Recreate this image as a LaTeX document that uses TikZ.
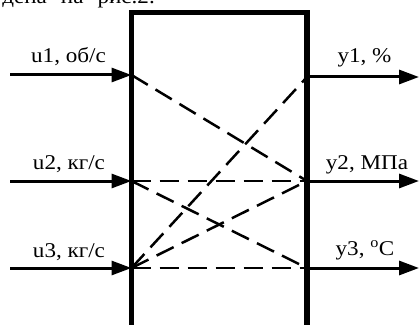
\documentclass[tikz,border=0pt]{standalone}
\usepackage{fontspec}
\setmainfont[FakeStretch=1.1]{Liberation Serif}
\usetikzlibrary{arrows.meta}
\begin{document}
\begin{tikzpicture}[x=1pt,y=1pt,
  lbl/.style={font=\fontsize{21}{24}\selectfont, inner sep=0pt, anchor=base},
  sig/.style={line width=3pt, -{Triangle[length=20pt,width=14pt]}},
  link/.style={line width=2.5pt, dash pattern=on 19pt off 9pt},
  frame/.style={line width=5.5pt, line join=miter}]
\useasboundingbox (0,0) rectangle (419,324);
\clip (0,0) rectangle (419,324);
\node[lbl, anchor=base east] (cap) at (155,320) {дена\hspace{14pt}на\hspace{14pt}рис.2.};
\draw[frame] (131.5,-5) -- (131.5,311.5) -- (307,311.5) -- (307,-5);
\coordinate (i1) at (131.5,249);
\coordinate (i2) at (131.5,143);
\coordinate (i3) at (131.5,56);
\coordinate (o1) at (307,247);
\coordinate (o2) at (307,143);
\coordinate (o3) at (307,56);
\coordinate (s1) at (10,249);
\coordinate (s2) at (10,143);
\coordinate (s3) at (10,56);
\coordinate (e1) at (419,247);
\coordinate (e2) at (419,143);
\coordinate (e3) at (419,56);
\draw[sig] (s1) -- (i1);
\draw[sig] (s2) -- (i2);
\draw[sig] (s3) -- (i3);
\draw[sig] (o1) -- (e1);
\draw[sig] (o2) -- (e2);
\draw[sig] (o3) -- (e3);
\draw[link] (i1) -- (o2);
\draw[link] (i2) -- (o2);
\draw[link] (i2) -- (o3);
\draw[link] (i3) -- (o1);
\draw[link] (i3) -- (o2);
\draw[link] (i3) -- (o3);
\node[lbl] (lu1) at (68.5,261) {u1, об/с};
\node[lbl] (lu2) at (69,155) {u2, кг/с};
\node[lbl] (lu3) at (69,67) {u3, кг/с};
\node[lbl] (ly1) at (364.5,261) {y1, \%};
\node[lbl] (ly2) at (367,154) {y2, МПа};
\node[lbl] (ly3) at (365,69) {y3, \textsuperscript{o}C};
\end{tikzpicture}
\end{document}
